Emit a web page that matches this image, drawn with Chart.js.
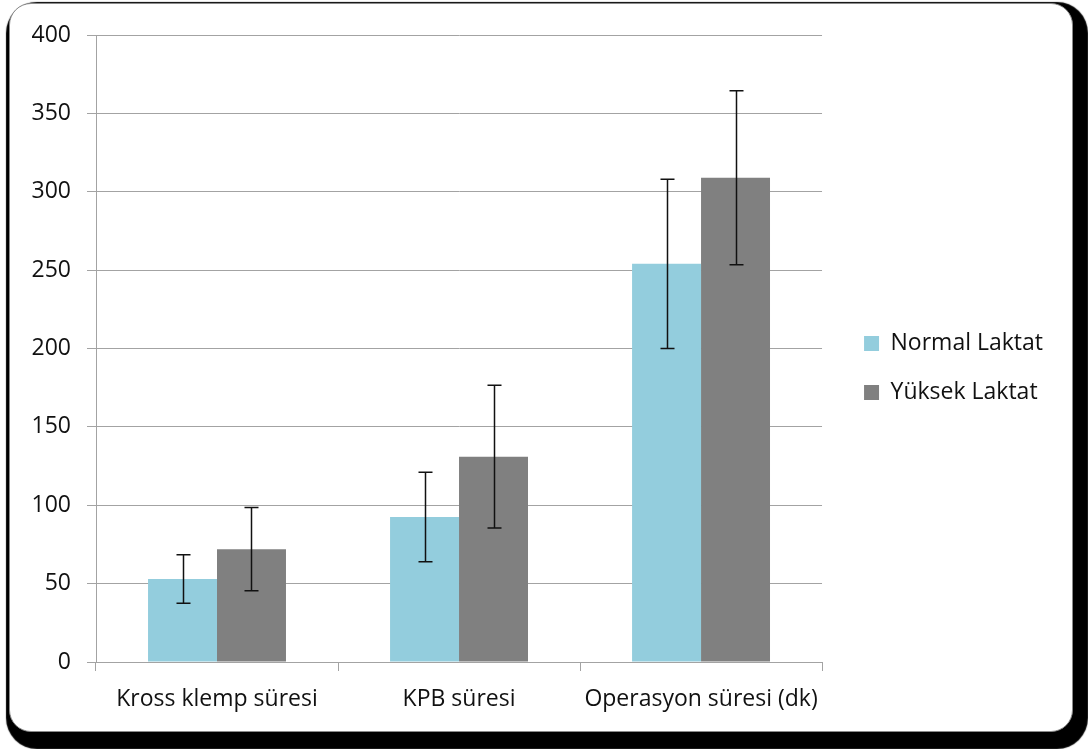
<!DOCTYPE html>
<html lang="tr">
  <head>
    <meta charset="utf-8">
    <title>Laktat sureleri</title>
    <style>
      body { margin: 0; background: #fff; overflow: hidden; }
      .card {
        position: absolute; left: 9px; top: 3px; width: 1062px; height: 727px;
        border: 1.5px solid #8a8a8a; border-radius: 22px; background: #fff;
        box-shadow: 6px 8px 1px 9px #000;
      }
      #myChart { position: absolute; left: 0; top: 0; }
    </style>
  </head>
  <body>
    <div class="card"></div>
    <canvas id="myChart" width="1088" height="749"></canvas>

    <script src="https://cdn.jsdelivr.net/npm/chart.js@4.4.1/dist/chart.umd.min.js"></script>
    <script>
      var categories = ['Kross klemp süresi', 'KPB süresi', 'Operasyon süresi (dk)'];
      var seriesNames = ['Normal Laktat', 'Yüksek Laktat'];
      var normalValues = [53, 92.5, 254];
      var normalSd = [15.5, 28.5, 54];
      var yuksekValues = [72, 131, 309];
      var yuksekSd = [26.5, 45.5, 55.5];
      var yTicks = [0, 50, 100, 150, 200, 250, 300, 350, 400];

      var fontFamily = '"Open Sans", sans-serif';
      var fontSize = 23;
      var gridColor = '#a3a3a3';
      var legendPad = 26;
      var plotRight = 822;

      // size the right padding from the legend text so the plot ends at plotRight
      var mctx = document.createElement('canvas').getContext('2d');
      mctx.font = fontSize + 'px ' + fontFamily;
      var maxTextW = Math.max.apply(null, seriesNames.map(function(s) { return mctx.measureText(s).width; }));
      var legendW = legendPad + 15 + fontSize / 2 + maxTextW + 10;
      var padRight = Math.max(0, Math.round(1088 - plotRight - legendW));

      // draws the +/- sd whiskers on top of each bar
      var errorBars = {
        id: 'errorBars',
        afterDatasetsDraw: function(chart) {
          var ctx = chart.ctx;
          var yScale = chart.scales.y;
          ctx.save();
          ctx.strokeStyle = '#111';
          ctx.lineWidth = 1.5;
          chart.data.datasets.forEach(function(ds, di) {
            var meta = chart.getDatasetMeta(di);
            meta.data.forEach(function(bar, i) {
              var v = ds.data[i], sd = ds.sd[i];
              var x = Math.round(bar.x) + 0.5;
              var top = yScale.getPixelForValue(v + sd);
              var bot = yScale.getPixelForValue(v - sd);
              ctx.beginPath();
              ctx.moveTo(x, top); ctx.lineTo(x, bot);
              ctx.moveTo(x - 7, top); ctx.lineTo(x + 7, top);
              ctx.moveTo(x - 7, bot); ctx.lineTo(x + 7, bot);
              ctx.stroke();
            });
          });
          ctx.restore();
        }
      };

      // legend sits a bit further from the plot than its padding gives
      var legendNudge = {
        id: 'legendNudge',
        afterLayout: function(chart) {
          chart.legend.left += 16;
          chart.legend.right += 16;
        }
      };

      var ctx = document.getElementById('myChart').getContext('2d');

      var config = {
        type: 'bar',
        data: {
          labels: categories,
          datasets: [{
            label: seriesNames[0],
            data: normalValues,
            sd: normalSd,
            backgroundColor: '#93cddd',
            categoryPercentage: 0.57,
            barPercentage: 1.0
          }, {
            label: seriesNames[1],
            data: yuksekValues,
            sd: yuksekSd,
            backgroundColor: '#808080',
            categoryPercentage: 0.57,
            barPercentage: 1.0
          }]
        },
        options: {
          responsive: false,
          animation: false,
          layout: { padding: { left: 0, top: 35, right: padRight, bottom: 27 } },
          scales: {
            x: {
              grid: { offset: true, drawOnChartArea: false, drawTicks: true, tickLength: 9, color: gridColor },
              border: { display: true, color: gridColor },
              ticks: { color: '#111', padding: 15, font: { family: fontFamily, size: fontSize } },
              afterFit: function(scale) { scale.height = 60; }
            },
            y: {
              min: 0,
              max: 400,
              afterBuildTicks: function(scale) {
                scale.ticks = yTicks.map(function(v) { return { value: v }; });
              },
              grid: { color: gridColor, tickLength: 9 },
              border: { display: true, color: gridColor },
              ticks: { color: '#111', padding: 16, font: { family: fontFamily, size: fontSize } },
              afterFit: function(scale) { scale.width = 96; }
            }
          },
          plugins: {
            tooltip: { enabled: false },
            legend: {
              position: 'right',
              fullSize: false,
              // empty title only pushes the two items down a little
              title: { display: true, text: '', font: { size: 10 }, padding: { top: 14, bottom: 13 } },
              labels: {
                boxWidth: 15,
                boxHeight: 15,
                padding: legendPad,
                color: '#111',
                font: { family: fontFamily, size: fontSize }
              }
            }
          }
        },
        plugins: [errorBars, legendNudge]
      };

      var chart = new Chart(ctx, config);
    </script>
  </body>
</html>
